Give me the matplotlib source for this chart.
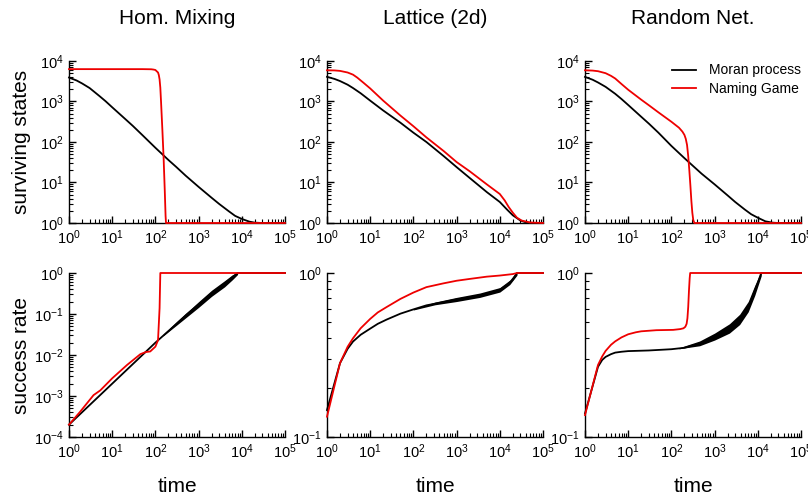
import matplotlib
matplotlib.use('Agg')
import matplotlib.pyplot as plt
from matplotlib.ticker import LogLocator, LogFormatterSciNotation, NullFormatter

plt.rcParams['font.family'] = ['Liberation Sans', 'DejaVu Sans']
plt.rcParams['mathtext.fontset'] = 'custom'
plt.rcParams['mathtext.rm'] = 'Liberation Sans'
plt.rcParams['mathtext.it'] = 'Liberation Sans:italic'
plt.rcParams['mathtext.bf'] = 'Liberation Sans:bold'

# ---------------- data ----------------
titles = ["Hom. Mixing", "Lattice (2d)", "Random Net."]
series_labels = ["Moran process", "Naming Game"]

# surviving states -- Homogeneous mixing
moran_hom_t = [1, 1.5, 2, 3, 5, 7, 10, 20, 30, 50, 100, 200, 300, 500, 1000, 2000, 3000,
               5000, 7000, 1e4, 1.5e4, 2e4, 3e4, 1e5]
moran_hom_n = [3900, 3300, 2800, 2150, 1380, 1020, 720, 370, 250, 148, 72, 36, 24.5, 14.8,
               7.8, 4.2, 2.95, 1.95, 1.5, 1.26, 1.08, 1.02, 1.0, 1.0]
ng_hom_t = [1, 10, 50, 80, 90, 100, 105, 115, 120, 125, 130, 135, 145, 155, 165, 172, 176, 1e5]
ng_hom_n = [6300, 6300, 6300, 6250, 6150, 6000, 5700, 5200, 4500, 3500, 2200, 1000, 200, 40,
            6, 1.5, 1.0, 1.0]

# surviving states -- Lattice
moran_lat_t = [1, 1.5, 2, 3, 4, 6, 10, 20, 50, 100, 200, 500, 1000, 2000, 5000, 1e4, 1.5e4,
               2e4, 3e4, 4e4, 6e4, 1e5]
moran_lat_n = [4070, 3600, 3200, 2600, 2150, 1600, 1050, 600, 300, 170, 100, 45, 24, 13, 5.8,
               3.3, 2.1, 1.55, 1.15, 1.04, 1.0, 1.0]
ng_lat_t = [1, 1.5, 2, 3, 4, 5, 7, 10, 20, 50, 100, 200, 500, 1000, 2000, 5000, 1e4, 1.3e4,
            1.6e4, 2e4, 2.5e4, 3.2e4, 5e4, 1e5]
ng_lat_n = [5900, 5850, 5700, 5200, 4600, 3900, 2900, 2100, 1050, 450, 245, 130, 60, 32, 19,
            9.0, 5.2, 3.6, 2.5, 1.8, 1.35, 1.15, 1.03, 1.0]

# surviving states -- Random network
moran_rn_t = [1, 1.5, 2, 3, 5, 7, 10, 20, 30, 50, 100, 200, 300, 500, 1000, 2000, 3000,
              5000, 7000, 1e4, 1.5e4, 2.2e4, 3e4, 1e5]
moran_rn_n = [4050, 3450, 2950, 2300, 1550, 1150, 820, 420, 285, 170, 80, 40, 27, 16.5, 9.0,
              4.8, 3.3, 2.15, 1.65, 1.35, 1.1, 1.02, 1.0, 1.0]
ng_rn_t = [1, 1.5, 2, 3, 4, 5, 7, 10, 20, 30, 50, 100, 150, 180, 200, 215, 230, 245, 260,
           275, 290, 305, 320, 340, 1e5]
ng_rn_n = [5900, 5800, 5600, 5000, 4300, 3700, 2700, 1950, 1110, 810, 540, 316, 225, 180,
           150, 120, 85, 45, 20, 8.5, 3.5, 1.8, 1.2, 1.0, 1.0]

# success rate -- Homogeneous mixing
moran_hom_sr_t = [1, 10, 100, 215, 520, 1000, 2000, 4000, 6000, 8000, 1e5]
moran_hom_sr = [2.0e-4, 2.0e-3, 0.020, 0.041, 0.096, 0.17, 0.32, 0.55, 0.78, 1.0, 1.0]
moran_hom_band_t = [150, 300, 1000, 2000, 4000, 6000, 8000]
moran_hom_band_lo = [0.029, 0.052, 0.145, 0.27, 0.46, 0.68, 0.92]
moran_hom_band_hi = [0.032, 0.063, 0.20, 0.38, 0.65, 0.90, 1.05]
ng_hom_sr_t = [1, 1.8, 3.7, 5.3, 10, 22, 45, 60, 76, 100, 115, 125, 130, 1e5]
ng_hom_sr = [2e-4, 4.1e-4, 1.05e-3, 1.37e-3, 2.7e-3, 5.7e-3, 0.0105, 0.0118, 0.0122, 0.016,
             0.023, 0.14, 1.0, 1.0]

# success rate -- Lattice
moran_lat_sr_t = [1, 2, 3, 4, 6, 10, 15, 24, 50, 100, 200, 500, 1000, 2000, 5000, 1e4,
                  1.5e4, 2e4, 2.5e4, 1e5]
moran_lat_sr = [0.146, 0.282, 0.345, 0.382, 0.42, 0.458, 0.49, 0.52, 0.565, 0.60, 0.635,
                0.665, 0.69, 0.71, 0.745, 0.79, 0.85, 0.91, 1.0, 1.0]
moran_lat_band_t = [100, 316, 1000, 3450, 1e4, 1.7e4, 2.5e4]
moran_lat_band_lo = [0.595, 0.64, 0.67, 0.71, 0.765, 0.85, 0.97]
moran_lat_band_hi = [0.605, 0.665, 0.71, 0.755, 0.815, 0.905, 1.03]
ng_lat_sr_t = [1, 2, 3, 4, 6, 10, 15, 24, 50, 100, 200, 500, 1000, 2000, 5000, 1e4, 2e4,
               2.5e4, 1e5]
ng_lat_sr = [0.133, 0.282, 0.355, 0.40, 0.46, 0.525, 0.575, 0.62, 0.695, 0.76, 0.82, 0.865,
             0.897, 0.92, 0.95, 0.965, 0.985, 1.0, 1.0]

# success rate -- Random network
moran_rn_sr_t = [1, 2, 2.5, 3, 4, 5, 7, 10, 30, 100, 200, 400, 700, 1000, 2000, 3000, 4000,
                 5000, 6000, 7000, 8500, 1e4, 1.2e4, 1e5]
moran_rn_sr = [0.139, 0.268, 0.295, 0.308, 0.32, 0.327, 0.331, 0.334, 0.337, 0.343, 0.35,
               0.368, 0.39, 0.41, 0.455, 0.49, 0.525, 0.57, 0.62, 0.68, 0.78, 0.87, 1.0, 1.0]
moran_rn_band_t = [150, 450, 1000, 2200, 3800, 6000, 8500, 12000]
moran_rn_band_lo = [0.345, 0.36, 0.39, 0.43, 0.485, 0.58, 0.73, 0.96]
moran_rn_band_hi = [0.350, 0.385, 0.43, 0.49, 0.56, 0.67, 0.84, 1.03]
ng_rn_sr_t = [1, 2, 2.5, 3, 4, 5, 7, 10, 15, 20, 45, 110, 160, 190, 210, 225, 235, 245, 255,
              265, 272, 1e5]
ng_rn_sr = [0.136, 0.275, 0.31, 0.335, 0.365, 0.383, 0.405, 0.423, 0.435, 0.441, 0.448, 0.45,
            0.455, 0.46, 0.47, 0.49, 0.53, 0.62, 0.78, 0.93, 1.0, 1.0]

# ---------------- figure ----------------
W, H = 808, 497
fig = plt.figure(figsize=(W / 100, H / 100), dpi=100)

lefts_px = [69, 327, 585]
width_px = 216
rows_px = [(61, 223), (273, 437)]  # (top, bottom)


def make_ax(lp, row):
    top, bot = rows_px[row]
    return fig.add_axes([lp / W, 1 - bot / H, width_px / W, (bot - top) / H])


def style(ax, ylim):
    ax.set_xscale('log')
    ax.set_yscale('log')
    ax.set_xlim(1, 1e5)
    ax.set_ylim(*ylim)
    for s in ('top', 'right'):
        ax.spines[s].set_visible(False)
    for s in ('left', 'bottom'):
        ax.spines[s].set_linewidth(1.0)
    for axis in (ax.xaxis, ax.yaxis):
        axis.set_major_locator(LogLocator(base=10, numticks=12))
        axis.set_minor_locator(LogLocator(base=10, subs=range(2, 10), numticks=12))
        axis.set_major_formatter(LogFormatterSciNotation())
        axis.set_minor_formatter(NullFormatter())
    ax.tick_params(which='both', direction='in', top=False, right=False,
                   labelsize=10.5, pad=4)
    ax.tick_params(which='major', length=5, width=1.0)
    ax.tick_params(which='minor', length=3, width=0.8)
    ax.patch.set_alpha(0)


LW = 1.3
RED = '#ee0000'
top_data = [
    (moran_hom_t, moran_hom_n, ng_hom_t, ng_hom_n),
    (moran_lat_t, moran_lat_n, ng_lat_t, ng_lat_n),
    (moran_rn_t, moran_rn_n, ng_rn_t, ng_rn_n),
]
bot_data = [
    (moran_hom_sr_t, moran_hom_sr, ng_hom_sr_t, ng_hom_sr,
     moran_hom_band_t, moran_hom_band_lo, moran_hom_band_hi, (1e-4, 1)),
    (moran_lat_sr_t, moran_lat_sr, ng_lat_sr_t, ng_lat_sr,
     moran_lat_band_t, moran_lat_band_lo, moran_lat_band_hi, (0.1, 1)),
    (moran_rn_sr_t, moran_rn_sr, ng_rn_sr_t, ng_rn_sr,
     moran_rn_band_t, moran_rn_band_lo, moran_rn_band_hi, (0.1, 1)),
]

for i, lp in enumerate(lefts_px):
    ax = make_ax(lp, 0)
    mt, mn, nt, nn = top_data[i]
    ax.plot(mt, mn, color='black', lw=LW, label=series_labels[0], clip_on=False, zorder=3)
    ax.plot(nt, nn, color=RED, lw=LW, label=series_labels[1], clip_on=False, zorder=4)
    style(ax, (1, 1e4))
    if i == 2:
        ax.legend(loc='upper right', bbox_to_anchor=(1.0, 0.985), frameon=False,
                  fontsize=10, handlelength=1.75, handletextpad=0.95,
                  labelspacing=0.35, borderpad=0, borderaxespad=0)
    cx = (lp + width_px / 2) / W
    fig.text(cx, 1 - 18 / H, titles[i], ha='center', va='center', fontsize=15)

    ax2 = make_ax(lp, 1)
    mt, mv, nt, nv, bt, blo, bhi, yl = bot_data[i]
    ax2.fill_between(bt, blo, bhi, color='black', lw=0, zorder=2)
    ax2.plot(mt, mv, color='black', lw=LW, clip_on=False, zorder=3)
    ax2.plot(nt, nv, color=RED, lw=LW, clip_on=False, zorder=4)
    style(ax2, yl)
    fig.text(cx, 1 - 487 / H, 'time', ha='center', va='center', fontsize=15)

fig.text(22 / W, 1 - 142 / H, 'surviving states', rotation=90, ha='center', va='center', fontsize=15)
fig.text(22 / W, 1 - 355 / H, 'success rate', rotation=90, ha='center', va='center', fontsize=15)

fig.savefig('out.png', dpi=100)
